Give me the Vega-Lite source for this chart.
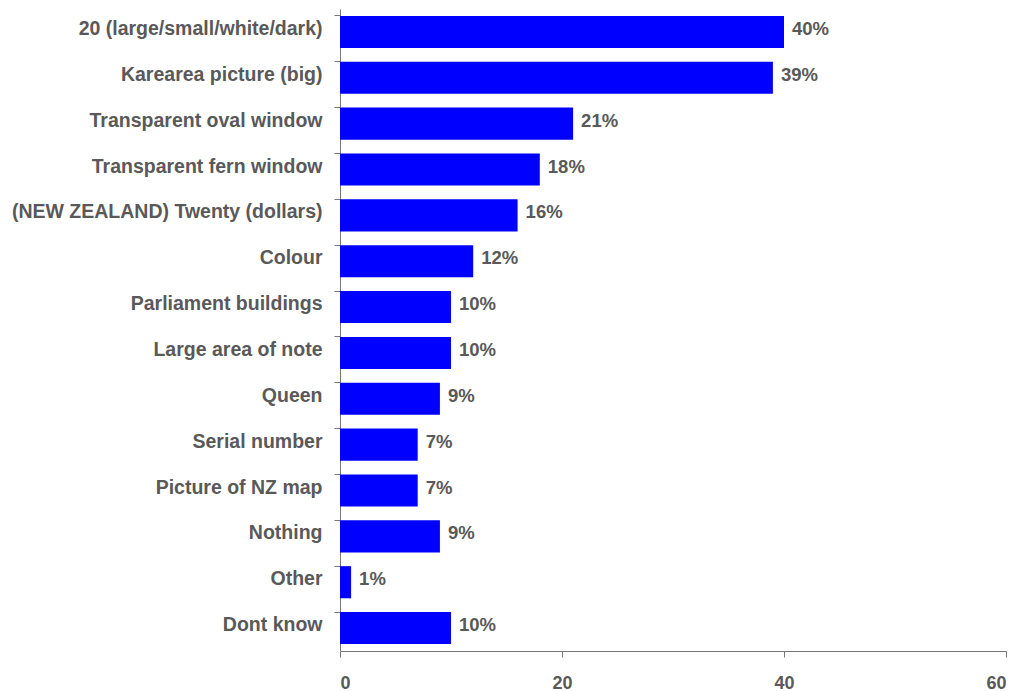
{
  "$schema": "https://vega.github.io/schema/vega-lite/v6.json",
  "width": 666,
  "height": 642,
  "autosize": {"type": "none"},
  "padding": {"left": 340, "top": 9, "right": 29, "bottom": 40},
  "background": "white",
  "config": {"view": {"stroke": null}, "font": "Liberation Sans"},
  "data": {"values": [
    {"item": "20 (large/small/white/dark)", "pct": 40, "label": "40%"},
    {"item": "Karearea picture (big)", "pct": 39, "label": "39%"},
    {"item": "Transparent oval window", "pct": 21, "label": "21%"},
    {"item": "Transparent fern window", "pct": 18, "label": "18%"},
    {"item": "(NEW ZEALAND) Twenty (dollars)", "pct": 16, "label": "16%"},
    {"item": "Colour", "pct": 12, "label": "12%"},
    {"item": "Parliament buildings", "pct": 10, "label": "10%"},
    {"item": "Large area of note", "pct": 10, "label": "10%"},
    {"item": "Queen", "pct": 9, "label": "9%"},
    {"item": "Serial number", "pct": 7, "label": "7%"},
    {"item": "Picture of NZ map", "pct": 7, "label": "7%"},
    {"item": "Nothing", "pct": 9, "label": "9%"},
    {"item": "Other", "pct": 1, "label": "1%"},
    {"item": "Dont know", "pct": 10, "label": "10%"}
  ]},
  "encoding": {
    "y": {"field": "item", "type": "nominal", "sort": null,
      "scale": {"paddingInner": 0.3, "paddingOuter": 0.15},
      "axis": {"title": null, "bandPosition": 0, "domainColor": "#777777", "tickColor": "#777777", "tickSize": 6,
        "labelFont": "Liberation Sans", "labelFontSize": 19.5, "labelFontWeight": "bold", "labelColor": "#595959", "labelPadding": 12, "labelLimit": 400, "labelOffset": -3}},
    "x": {"field": "pct", "type": "quantitative",
      "scale": {"domain": [0, 60], "nice": false},
      "axis": {"title": null, "values": [0, 20, 40, 60], "grid": false, "domainColor": "#777777", "tickColor": "#777777", "tickSize": 6,
        "labelFont": "Liberation Sans", "labelFontSize": 18, "labelFontWeight": "bold", "labelColor": "#595959", "labelPadding": 17}}
  },
  "layer": [
    {"mark": {"type": "bar", "color": "#0000FF"}},
    {"mark": {"type": "text", "align": "left", "dx": 8, "dy": -3, "font": "Liberation Sans", "fontSize": 18.5, "fontWeight": "bold", "color": "#595959"},
     "encoding": {"text": {"field": "label", "type": "nominal"}}}
  ]
}
